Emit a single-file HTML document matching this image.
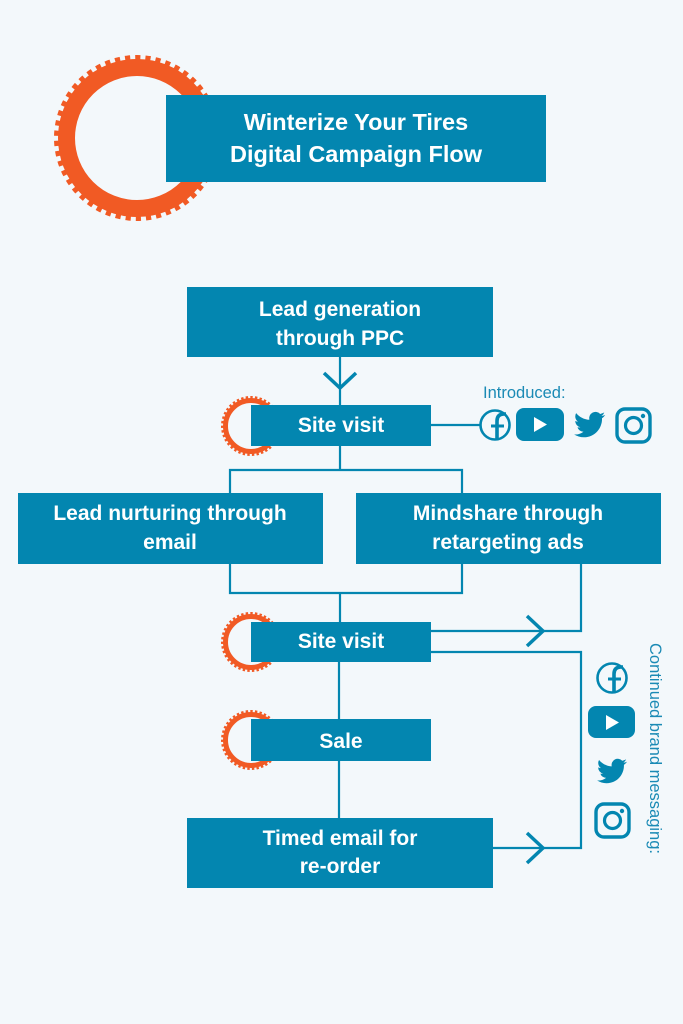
<!DOCTYPE html>
<html>
<head>
<meta charset="utf-8">
<style>
html,body{margin:0;padding:0;background:#f3f8fb;}
svg{display:block;}
text{font-family:"Liberation Sans",Arial,sans-serif;}
.b{fill:#fff;font-weight:bold;font-size:21px;text-anchor:middle;}
</style>
</head>
<body>
<svg width="683" height="1024" viewBox="0 0 683 1024" xmlns="http://www.w3.org/2000/svg">
<rect width="683" height="1024" fill="#f3f8fb"/>

<!-- Title gear -->
<g fill="none" stroke="#f15a24">
  <circle cx="137" cy="138" r="70.5" stroke-width="17"/>
  <circle cx="137" cy="138" r="80.5" stroke-width="5" stroke-dasharray="5.2 5"/>
</g>
<rect x="166" y="95" width="380" height="87" fill="#0386b0"/>
<text x="356" y="130" fill="#fff" font-weight="bold" font-size="23.5" text-anchor="middle">Winterize Your Tires</text>
<text x="356" y="162" fill="#fff" font-weight="bold" font-size="23.5" text-anchor="middle">Digital Campaign Flow</text>

<!-- small gears -->
<g fill="none" stroke="#f15a24">
  <circle cx="251" cy="426" r="25.5" stroke-width="5"/>
  <circle cx="251" cy="426" r="28.5" stroke-width="3" stroke-dasharray="2.4 2.2"/>
  <circle cx="251" cy="642" r="25.5" stroke-width="5"/>
  <circle cx="251" cy="642" r="28.5" stroke-width="3" stroke-dasharray="2.4 2.2"/>
  <circle cx="251" cy="740" r="25.5" stroke-width="5"/>
  <circle cx="251" cy="740" r="28.5" stroke-width="3" stroke-dasharray="2.4 2.2"/>
</g>

<!-- connectors -->
<g fill="none" stroke="#0386b0" stroke-width="2.2">
  <line x1="340" y1="357" x2="340" y2="405"/>
  <line x1="340" y1="446" x2="340" y2="470"/>
  <polyline points="230,493 230,470 462,470 462,493"/>
  <polyline points="230,564 230,593 462,593 462,564"/>
  <line x1="340" y1="593" x2="340" y2="622"/>
  <line x1="339" y1="662" x2="339" y2="719"/>
  <line x1="339" y1="761" x2="339" y2="818"/>
  <line x1="431" y1="425" x2="480" y2="425"/>
  <polyline points="431,631 581,631 581,564"/>
  <polyline points="431,652 581,652 581,848 493,848"/>
</g>
<g fill="none" stroke="#0386b0" stroke-width="3.5">
  <polyline points="324,373 340,388 356,373"/>
  <polyline points="527,616 543,631 527,646"/>
  <polyline points="527,833 543,848 527,863"/>
</g>

<!-- boxes -->
<g fill="#0386b0">
  <rect x="187" y="287" width="306" height="70"/>
  <rect x="251" y="405" width="180" height="41"/>
  <rect x="18" y="493" width="305" height="71"/>
  <rect x="356" y="493" width="305" height="71"/>
  <rect x="251" y="622" width="180" height="40"/>
  <rect x="251" y="719" width="180" height="42"/>
  <rect x="187" y="818" width="306" height="70"/>
</g>
<text class="b" x="340" y="316">Lead generation</text>
<text class="b" x="340" y="345">through PPC</text>
<text class="b" x="341" y="432">Site visit</text>
<text class="b" x="170" y="520">Lead nurturing through</text>
<text class="b" x="170" y="549">email</text>
<text class="b" x="508" y="520">Mindshare through</text>
<text class="b" x="508" y="549">retargeting ads</text>
<text class="b" x="341" y="648">Site visit</text>
<text class="b" x="341" y="748">Sale</text>
<text class="b" x="340" y="845">Timed email for</text>
<text class="b" x="340" y="873">re-order</text>

<!-- Introduced -->
<text x="483" y="398" fill="#1a8ab5" font-size="16.5">Introduced:</text>

<!-- icons row -->
<g>
  <circle cx="495" cy="425" r="14.5" fill="none" stroke="#0386b0" stroke-width="2.6"/>
  <path d="M497 440 V421 q0 -7 7 -7 h2" fill="none" stroke="#0386b0" stroke-width="3.6"/>
  <line x1="491" y1="426" x2="504" y2="426" stroke="#0386b0" stroke-width="3"/>
  <rect x="516" y="408" width="48" height="33" rx="8" fill="#0386b0"/>
  <polygon points="534,417 534,432 547,424.5" fill="#fff"/>
  <path transform="translate(574,409) scale(1.3)" fill="#0386b0" d="M23.953 4.57a10 10 0 01-2.825.775 4.958 4.958 0 002.163-2.723c-.951.555-2.005.959-3.127 1.184a4.92 4.92 0 00-8.384 4.482C7.690 8.095 4.067 6.13 1.640 3.162a4.822 4.822 0 00-.666 2.475c0 1.71.87 3.213 2.188 4.096a4.904 4.904 0 01-2.228-.616v.06a4.923 4.923 0 003.946 4.827 4.996 4.996 0 01-2.212.085 4.936 4.936 0 004.604 3.417 9.867 9.867 0 01-6.102 2.105c-.39 0-.779-.023-1.17-.067a13.995 13.995 0 007.557 2.209c9.053 0 13.998-7.496 13.998-13.985 0-.21 0-.42-.015-.63A9.935 9.935 0 0024 4.590z"/>
  <rect x="617" y="409" width="33" height="33" rx="8" fill="none" stroke="#0386b0" stroke-width="3.4"/>
  <circle cx="633.5" cy="425.5" r="8" fill="none" stroke="#0386b0" stroke-width="3.2"/>
  <circle cx="643" cy="416" r="2.2" fill="#0386b0"/>
</g>

<!-- icons column -->
<g>
  <circle cx="612" cy="678" r="14.5" fill="none" stroke="#0386b0" stroke-width="2.6"/>
  <path d="M614 693 V674 q0 -7 7 -7 h2" fill="none" stroke="#0386b0" stroke-width="3.6"/>
  <line x1="608" y1="679" x2="621" y2="679" stroke="#0386b0" stroke-width="3"/>
  <rect x="588" y="706" width="47" height="32" rx="8" fill="#0386b0"/>
  <polygon points="606,715 606,730 619,722.5" fill="#0386b0"/>
  <polygon points="606,715 606,730 619,722.5" fill="#fff"/>
  <path transform="translate(597,756) scale(1.25)" fill="#0386b0" d="M23.953 4.57a10 10 0 01-2.825.775 4.958 4.958 0 002.163-2.723c-.951.555-2.005.959-3.127 1.184a4.920 4.920 0 00-8.384 4.482C7.690 8.095 4.067 6.130 1.640 3.162a4.822 4.822 0 00-.666 2.475c0 1.710.870 3.213 2.188 4.096a4.904 4.904 0 01-2.228-.616v.06a4.923 4.923 0 003.946 4.827 4.996 4.996 0 01-2.212.085 4.936 4.936 0 004.604 3.417 9.867 9.867 0 01-6.102 2.105c-.39 0-.779-.023-1.170-.067a13.995 13.995 0 007.557 2.209c9.053 0 13.998-7.496 13.998-13.985 0-.21 0-.42-.015-.63A9.935 9.935 0 0024 4.590z"/>
  <rect x="596" y="804" width="33" height="33" rx="8" fill="none" stroke="#0386b0" stroke-width="3.4"/>
  <circle cx="612.5" cy="820.5" r="8" fill="none" stroke="#0386b0" stroke-width="3.2"/>
  <circle cx="622" cy="811" r="2.2" fill="#0386b0"/>
</g>

<text transform="translate(650,643) rotate(90)" fill="#1a8ab5" font-size="16.5">Continued brand messaging:</text>
</svg>
</body>
</html>
